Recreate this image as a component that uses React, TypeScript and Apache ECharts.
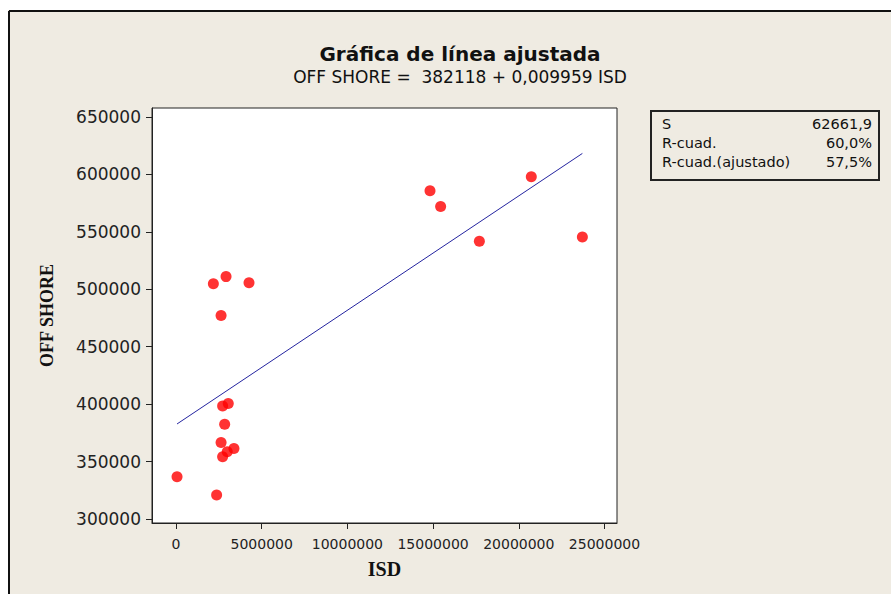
import React, { useEffect, useRef } from "react";
import * as echarts from "echarts";

// Data
const isd = [60000, 2370000, 2180000, 2920000, 4260000, 2630000, 2720000, 3050000, 2840000, 2630000, 3380000, 2990000, 2720000, 14820000, 15440000, 20730000, 17700000, 23710000];
const offShore = [336700, 320800, 504700, 511000, 505600, 477200, 398400, 400500, 382500, 366600, 361400, 358500, 354100, 585700, 572100, 597900, 541700, 545500];
const xTicks = [0, 5000000, 10000000, 15000000, 20000000, 25000000];
const yTicks = [300000, 350000, 400000, 450000, 500000, 550000, 600000, 650000];
const intercept = 382118;
const slope = 0.009959;
const statsLabels = ["S", "R-cuad.", "R-cuad.(ajustado)"];
const statsValues = ["62661,9", "60,0%", "57,5%"];

const BG = "#EFEBE2";
const FONT = "DejaVu Sans";

export default function App() {
  const ref = useRef<HTMLDivElement>(null);
  useEffect(() => {
    if (!ref.current) return;
    const chart = echarts.init(ref.current, null, { renderer: "svg" });
    const points = isd.map((x, i) => [x, offShore[i]]);
    const xMin = Math.min(...isd);
    const xMax = Math.max(...isd);
    const fit = [
      [xMin, intercept + slope * xMin],
      [xMax, intercept + slope * xMax],
    ];
    const rowY = [124, 143, 162];
    const graphics: any[] = [
      { type: "rect", shape: { x: 0, y: 0, width: 891, height: 10 }, style: { fill: "#fff" }, silent: true },
      { type: "rect", shape: { x: 0, y: 0, width: 8, height: 594 }, style: { fill: "#fff" }, silent: true },
      { type: "line", shape: { x1: 9, y1: 11, x2: 891, y2: 11 }, style: { stroke: "#111", lineWidth: 2 } },
      { type: "line", shape: { x1: 9, y1: 11, x2: 9, y2: 594 }, style: { stroke: "#111", lineWidth: 2 } },
      { type: "rect", shape: { x: 651, y: 111, width: 228, height: 69 }, style: { fill: BG, stroke: "#222", lineWidth: 2 } },
    ];
    statsLabels.forEach((t, i) => {
      graphics.push({ type: "text", x: 662, y: rowY[i], style: { text: t, font: `14.5px '${FONT}'`, fill: "#111", textAlign: "left", textVerticalAlign: "middle" } });
      graphics.push({ type: "text", x: 872, y: rowY[i], style: { text: statsValues[i], font: `14.5px '${FONT}'`, fill: "#111", textAlign: "right", textVerticalAlign: "middle" } });
    });
    chart.setOption({
      animation: false,
      backgroundColor: BG,
      title: [
        { text: "Gráfica de línea ajustada", left: 455, top: 39, textAlign: "center", textStyle: { fontFamily: FONT, fontSize: 20, fontWeight: "bold", color: "#111" } },
        { text: "OFF SHORE =  382118 + 0,009959 ISD", left: 455, top: 63, textAlign: "center", textStyle: { fontFamily: FONT, fontSize: 17, fontWeight: "normal", color: "#111" } },
      ],
      grid: { left: 152, right: 274, top: 108, bottom: 71, show: true, backgroundColor: "#fff", borderColor: "#222", borderWidth: 1, containLabel: false },
      xAxis: {
        type: "value",
        min: -1400000,
        max: 25730000,
        name: "ISD",
        nameLocation: "middle",
        nameGap: 36,
        nameTextStyle: { fontFamily: "Liberation Serif", fontWeight: "bold", fontSize: 20, color: "#111" },
        axisLine: { show: true, onZero: false, lineStyle: { color: "#222" } },
        axisTick: { show: true, length: 6, customValues: xTicks, lineStyle: { color: "#222" } },
        axisLabel: { customValues: xTicks, formatter: (v: number) => String(v), fontFamily: FONT, fontSize: 14, color: "#222", margin: 14 },
        splitLine: { show: false },
      },
      yAxis: {
        type: "value",
        min: 296500,
        max: 657800,
        name: "OFF SHORE",
        nameLocation: "middle",
        nameGap: 96,
        nameTextStyle: { fontFamily: "Liberation Serif", fontWeight: "bold", fontSize: 18, color: "#111" },
        axisLine: { show: true, onZero: false, lineStyle: { color: "#222" } },
        axisTick: { show: true, length: 6, customValues: yTicks, lineStyle: { color: "#222" } },
        axisLabel: { customValues: yTicks, formatter: (v: number) => String(v), fontFamily: FONT, fontSize: 17, color: "#222", margin: 11 },
        splitLine: { show: false },
      },
      graphic: graphics,
      series: [
        { type: "line", data: fit, showSymbol: false, symbol: "none", lineStyle: { color: "#2424a0", width: 1 }, silent: true, z: 1 },
        { type: "scatter", data: points, symbol: "circle", symbolSize: 11, itemStyle: { color: "#ff0000" }, z: 2 },
      ],
    });
    return () => chart.dispose();
  }, []);
  return <div ref={ref} style={{ position: "absolute", left: 0, top: 0, width: 891, height: 594 }} />;
}
